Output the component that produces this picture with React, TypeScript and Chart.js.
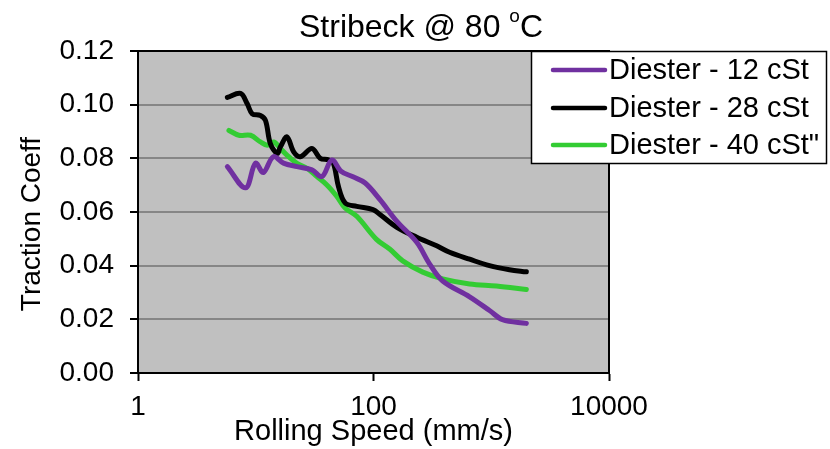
import React, { useEffect, useRef } from 'react';
import { Chart, registerables } from 'chart.js';

Chart.register(...registerables);

const FONT = '"Liberation Sans", Arial, Helvetica, sans-serif';

const titleMain = 'Stribeck @ 80 ';
const titleSup = 'o';
const titleEnd = 'C';
const xAxisTitle = 'Rolling Speed (mm/s)';
const yAxisTitle = 'Traction Coeff';

const seriesLabels = ['Diester - 12 cSt', 'Diester - 28 cSt', 'Diester - 40 cSt"'];
const seriesColors = ['#7030A0', '#000000', '#33CC33'];

const speed12 = [5.74, 8.19, 9.95, 11.6, 14.1, 17.2, 22.4, 30, 36.5, 44.3, 53, 67, 85, 113.5, 158, 233, 300, 387, 655, 967, 1245, 1986];
const coeff12 = [0.0769, 0.069, 0.0782, 0.0747, 0.0806, 0.0782, 0.0769, 0.0757, 0.0732, 0.0794, 0.0752, 0.0731, 0.0708, 0.0646, 0.0565, 0.0487, 0.0406, 0.0343, 0.0284, 0.0233, 0.0199, 0.0185];

const speed28 = [5.74, 7.43, 8.47, 9.33, 10.96, 12.1, 13.3, 15.2, 16.2, 18.4, 21, 23.9, 30, 35.3, 41.5, 45.7, 50.4, 57.4, 72.1, 99, 113.5, 158, 233, 344, 443, 655, 967, 1427, 1986];
const coeff28 = [0.1027, 0.1042, 0.1003, 0.0966, 0.096, 0.0941, 0.0855, 0.0818, 0.0843, 0.088, 0.0824, 0.0806, 0.0837, 0.08, 0.0794, 0.0781, 0.0695, 0.0634, 0.0621, 0.0609, 0.0591, 0.0543, 0.0506, 0.0474, 0.045, 0.0424, 0.04, 0.0385, 0.0377];

const speed40 = [5.92, 7.19, 9.03, 10.96, 12.5, 14.2, 16.2, 18.4, 22.4, 27.2, 33.1, 40.2, 48.9, 57.4, 72.1, 106, 138, 177, 262, 387, 655, 1107, 1986];
const coeff40 = [0.0904, 0.0886, 0.0886, 0.0861, 0.0849, 0.0861, 0.0837, 0.0812, 0.0781, 0.0763, 0.0732, 0.0701, 0.0658, 0.0615, 0.0584, 0.0498, 0.0461, 0.0418, 0.0376, 0.0351, 0.0332, 0.0324, 0.0311];

const xTickValues = [1, 100, 10000];
const yMin = 0;
const yMax = 0.12;
const yStep = 0.02;

const W = 830;
const H = 449;

function toPoints(xs: number[], ys: number[]) {
  return xs.map((x, i) => ({ x, y: ys[i] }));
}

const bgPlugin = {
  id: 'plotBg',
  beforeDraw(chart: any) {
    const { ctx, chartArea: a } = chart;
    ctx.save();
    ctx.fillStyle = '#C0C0C0';
    ctx.fillRect(a.left, a.top, a.right - a.left, a.bottom - a.top);
    ctx.restore();
  },
};

const framePlugin = {
  id: 'plotFrame',
  afterDatasetsDraw(chart: any) {
    const { ctx, chartArea: a } = chart;
    ctx.save();
    ctx.strokeStyle = '#000';
    ctx.lineWidth = 2;
    ctx.beginPath();
    ctx.moveTo(a.left, a.top);
    ctx.lineTo(a.right, a.top);
    ctx.lineTo(a.right, a.bottom);
    ctx.stroke();
    ctx.restore();
  },
};

const titlePlugin = {
  id: 'supTitle',
  afterDraw(chart: any) {
    const { ctx } = chart;
    ctx.save();
    ctx.fillStyle = '#000';
    ctx.textBaseline = 'alphabetic';
    ctx.textAlign = 'left';
    const big = `32px ${FONT}`;
    const small = `19px ${FONT}`;
    ctx.font = big;
    const w1 = ctx.measureText(titleMain).width;
    const w3 = ctx.measureText(titleEnd).width;
    ctx.font = small;
    const w2 = ctx.measureText(titleSup).width;
    const total = w1 + w2 + w3;
    const cx = 421;
    const base = 37;
    let x = cx - total / 2;
    ctx.font = big;
    ctx.fillText(titleMain, x, base);
    x += w1;
    ctx.font = small;
    ctx.fillText(titleSup, x, base - 15);
    x += w2;
    ctx.font = big;
    ctx.fillText(titleEnd, x, base);

    // y axis title
    ctx.save();
    ctx.translate(32, 224);
    ctx.rotate(-Math.PI / 2);
    ctx.font = `28px ${FONT}`;
    ctx.textAlign = 'center';
    ctx.textBaseline = 'middle';
    ctx.fillText(yAxisTitle, 0, 0);
    ctx.restore();
    ctx.restore();
  },
};

const legendPlugin = {
  id: 'boxLegend',
  afterDraw(chart: any) {
    const { ctx } = chart;
    const box = { x: 531.5, y: 51.5, w: 295, h: 112 };
    ctx.save();
    ctx.fillStyle = '#FFFFFF';
    ctx.fillRect(box.x, box.y, box.w, box.h);
    ctx.strokeStyle = '#000';
    ctx.lineWidth = 1.5;
    ctx.strokeRect(box.x, box.y, box.w, box.h);
    const rows = [70, 108, 145];
    ctx.font = `29px ${FONT}`;
    ctx.textBaseline = 'middle';
    ctx.textAlign = 'left';
    chart.data.datasets.forEach((ds: any, i: number) => {
      const y = rows[i];
      ctx.strokeStyle = ds.borderColor;
      ctx.lineWidth = 4.5;
      ctx.lineCap = 'round';
      ctx.beginPath();
      ctx.moveTo(553, y);
      ctx.lineTo(605, y);
      ctx.stroke();
      ctx.fillStyle = '#000';
      ctx.fillText(ds.label, 609, y + 1);
    });
    ctx.restore();
  },
};

export default function App() {
  const ref = useRef<HTMLCanvasElement | null>(null);

  useEffect(() => {
    if (!ref.current) return;
    const mk = (i: number, xs: number[], ys: number[]) => ({
      label: seriesLabels[i],
      data: toPoints(xs, ys),
      borderColor: seriesColors[i],
      backgroundColor: seriesColors[i],
      borderWidth: 5,
      pointRadius: 0,
      pointHoverRadius: 0,
      tension: 0.35,
      borderCapStyle: 'round',
      borderJoinStyle: 'round',
      fill: false,
    });
    const chart = new Chart(ref.current, {
      type: 'line',
      data: {
        datasets: [mk(0, speed12, coeff12), mk(1, speed28, coeff28), mk(2, speed40, coeff40)],
      },
      plugins: [bgPlugin, framePlugin, titlePlugin, legendPlugin],
      options: {
        animation: false,
        responsive: false,
        devicePixelRatio: 1,
        parsing: false as any,
        layout: { padding: { left: 0, right: 221, top: 51, bottom: 0 } },
        plugins: {
          legend: { display: false },
          title: { display: false },
          tooltip: { enabled: false },
        },
        scales: {
          x: {
            type: 'logarithmic',
            min: 1,
            max: 10000,
            afterBuildTicks: (scale: any) => {
              scale.ticks = xTickValues.map((v) => ({ value: v }));
            },
            afterFit: (scale: any) => {
              scale.height = 76;
            },
            ticks: {
              color: '#000',
              font: { family: FONT, size: 28, lineHeight: 1.2 },
              padding: 9,
              maxRotation: 0,
              autoSkip: false,
              callback: (v: any) => String(v),
            },
            grid: {
              drawOnChartArea: false,
              drawTicks: true,
              tickLength: 8,
              tickColor: '#000',
              tickWidth: 2,
              color: '#000',
            },
            border: { display: true, color: '#000', width: 2 },
            title: {
              display: true,
              text: xAxisTitle,
              color: '#000',
              font: { family: FONT, size: 29, lineHeight: 1.2 },
              padding: { top: 0, bottom: 0 },
            },
          },
          y: {
            type: 'linear',
            min: yMin,
            max: yMax,
            afterFit: (scale: any) => {
              scale.width = 138;
            },
            ticks: {
              stepSize: yStep,
              color: '#000',
              font: { family: FONT, size: 28, lineHeight: 1.2 },
              padding: 16,
              callback: (v: any) => Number(v).toFixed(2),
            },
            grid: {
              color: '#868686',
              lineWidth: 2,
              drawTicks: true,
              tickLength: 8,
              tickColor: '#000',
              tickWidth: 2,
            },
            border: { display: true, color: '#000', width: 2 },
            title: { display: false },
          },
        },
      } as any,
    });
    return () => chart.destroy();
  }, []);

  return (
    <div style={{ position: 'fixed', left: 0, top: 0, width: W, height: H, background: '#fff' }}>
      <canvas ref={ref} width={W} height={H} style={{ width: W, height: H, display: 'block' }} />
    </div>
  );
}
